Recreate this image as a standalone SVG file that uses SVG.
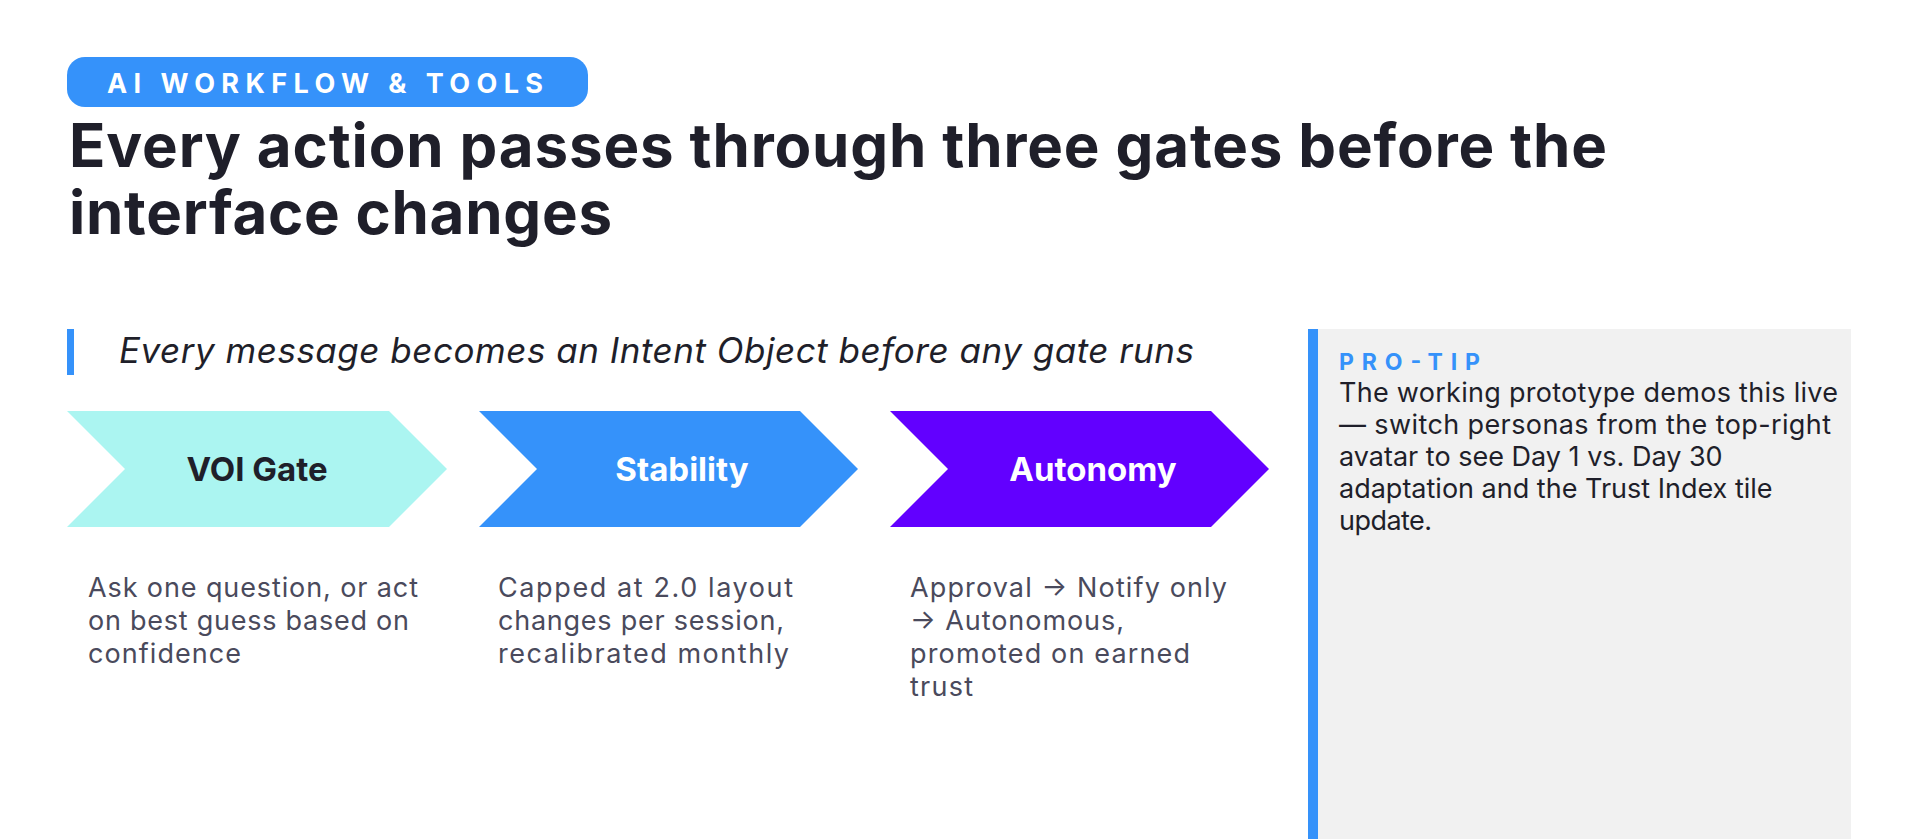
<svg xmlns="http://www.w3.org/2000/svg" width="1920" height="839" viewBox="0 0 1920 839">
<style>
.t{font-family:Inter,"Liberation Sans",sans-serif;}
.pill{font-size:27px;font-weight:700;fill:#ffffff;}
.title{font-size:60px;font-weight:700;fill:#1f1f2a;}
.sub{font-size:35px;font-style:italic;fill:#1f1f2a;}
.lab{font-size:33px;font-weight:700;text-anchor:middle;}
.desc{font-size:27px;fill:#4a4a5c;}
.tiph{font-size:23px;font-weight:700;fill:#3592fa;}
.tip{font-size:27px;fill:#1f1f2a;}
</style>
<rect width="1920" height="839" fill="#ffffff"/>
<g id="header">
<rect x="67" y="57" width="521" height="50" rx="18" fill="#3592fa"/>
<text class="t pill" x="107" y="93" textLength="436" lengthAdjust="spacing">AI WORKFLOW &amp; TOOLS</text>
<text class="t title" x="69" y="167" textLength="1538" lengthAdjust="spacing">Every action passes through three gates before the</text>
<text class="t title" x="69" y="234" textLength="543" lengthAdjust="spacing">interface changes</text>
</g>
<g id="subtitle">
<rect x="67" y="329" width="7" height="46" fill="#3592fa"/>
<text class="t sub" x="119" y="363" textLength="1075" lengthAdjust="spacing">Every message becomes an Intent Object before any gate runs</text>
</g>
<g id="gate-voi">
<polygon points="67,411 389,411 447,469 389,527 67,527 125,469" fill="#abf5f1"/>
<text class="t lab" x="257" y="481" fill="#1f1f2a">VOI Gate</text>
<text class="t desc" x="88" y="597" textLength="330" lengthAdjust="spacing">Ask one question, or act</text>
<text class="t desc" x="88" y="630" textLength="321" lengthAdjust="spacing">on best guess based on</text>
<text class="t desc" x="88" y="663" textLength="153" lengthAdjust="spacing">confidence</text>
</g>
<g id="gate-stability">
<polygon points="479,411 800,411 858,469 800,527 479,527 537,469" fill="#3592fa"/>
<text class="t lab" x="682" y="481" fill="#ffffff">Stability</text>
<text class="t desc" x="498" y="597" textLength="295" lengthAdjust="spacing">Capped at 2.0 layout</text>
<text class="t desc" x="498" y="630" textLength="286" lengthAdjust="spacing">changes per session,</text>
<text class="t desc" x="498" y="663" textLength="291" lengthAdjust="spacing">recalibrated monthly</text>
</g>
<g id="gate-autonomy">
<polygon points="890,411 1211,411 1269,469 1211,527 890,527 948,469" fill="#6200ff"/>
<text class="t lab" x="1093" y="481" fill="#ffffff">Autonomy</text>
<text class="t desc" x="910" y="597" textLength="317" lengthAdjust="spacing">Approval → Notify only</text>
<text class="t desc" x="910" y="630" textLength="214" lengthAdjust="spacing">→ Autonomous,</text>
<text class="t desc" x="910" y="663" textLength="280" lengthAdjust="spacing">promoted on earned</text>
<text class="t desc" x="910" y="696" textLength="63" lengthAdjust="spacing">trust</text>
</g>
<g id="connectors"></g>
<g id="pro-tip">
<rect x="1308" y="329" width="543" height="510" fill="#f1f1f1"/>
<rect x="1308" y="329" width="10" height="510" fill="#3592fa"/>
<text class="t tiph" x="1339" y="370" textLength="141" lengthAdjust="spacing">PRO-TIP</text>
<text class="t tip" x="1339" y="402" textLength="499" lengthAdjust="spacing">The working prototype demos this live</text>
<text class="t tip" x="1339" y="434" textLength="492" lengthAdjust="spacing">— switch personas from the top-right</text>
<text class="t tip" x="1339" y="466">avatar to see Day 1 vs. Day 30</text>
<text class="t tip" x="1339" y="498">adaptation and the Trust Index tile</text>
<text class="t tip" x="1339" y="530" textLength="93" lengthAdjust="spacing">update.</text>
</g>
</svg>
